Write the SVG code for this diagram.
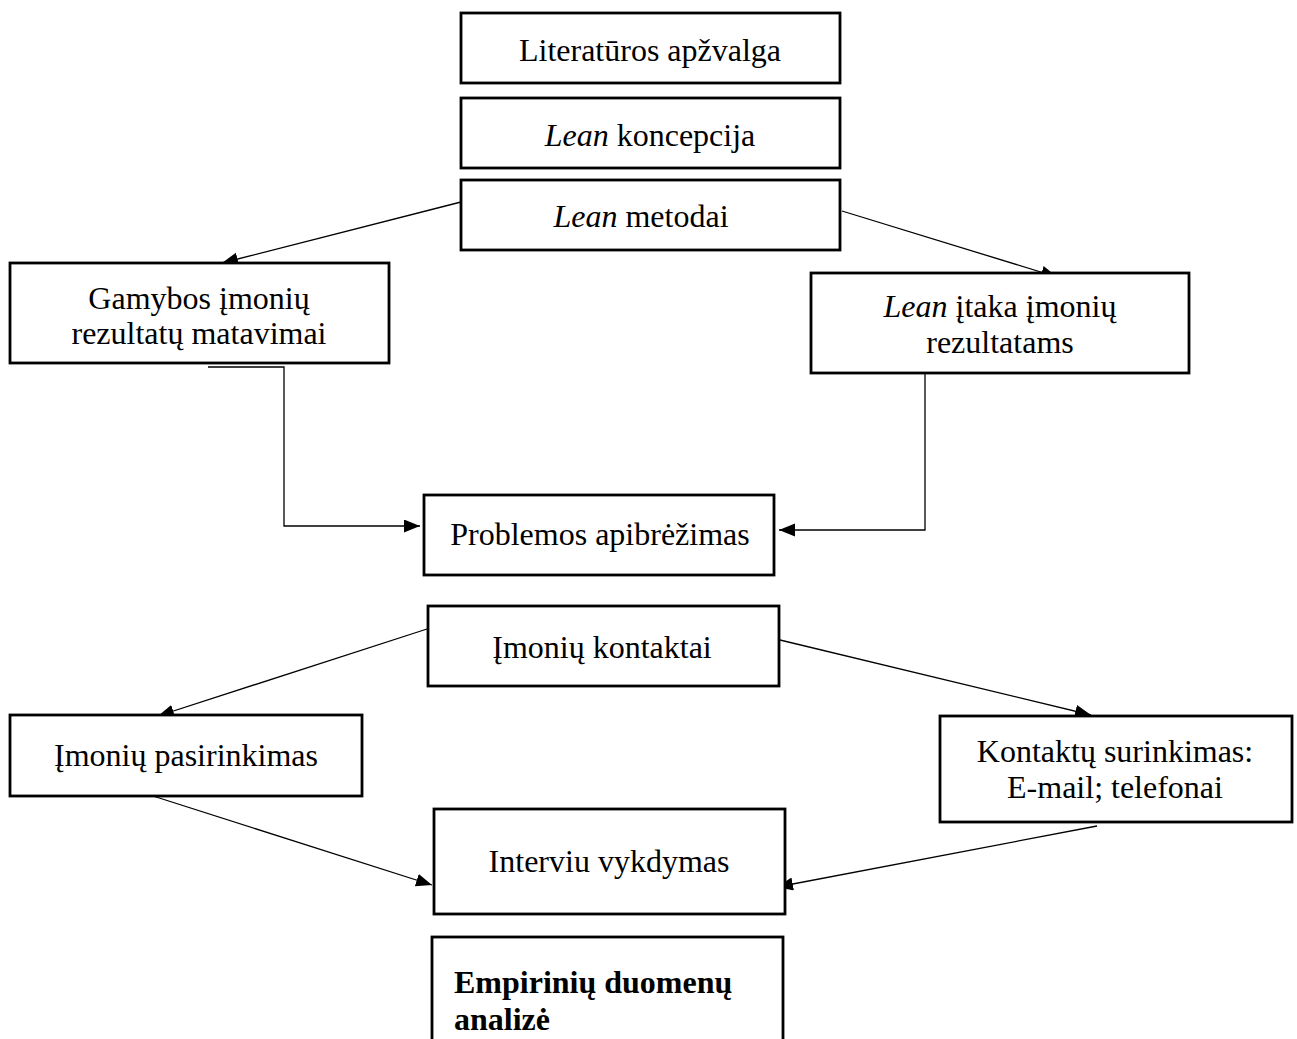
<svg xmlns="http://www.w3.org/2000/svg" width="1297" height="1039" viewBox="0 0 1297 1039">
<defs>
<style>
.box{fill:#fff;stroke:#000;stroke-width:2.8}
.t{font-family:"Liberation Serif","Times New Roman",serif;font-size:32px;fill:#000;text-anchor:middle}
.b{font-weight:bold;text-anchor:start}
.c{fill:none;stroke:#000;stroke-width:1.3}
</style>
<marker id="ah" markerUnits="userSpaceOnUse" markerWidth="17" markerHeight="14" refX="16" refY="6.5" orient="auto">
<path d="M0,0 L16,6.5 L0,13 z" fill="#000"/>
</marker>
</defs>
<rect width="1297" height="1039" fill="#fff"/>
<g id="connectors">
<path class="c" d="M461,202 L222,263" marker-end="url(#ah)"/>
<path class="c" d="M842,211 L1057,277" marker-end="url(#ah)"/>
<path class="c" d="M208,367 H284 V526 H420" marker-end="url(#ah)"/>
<path class="c" d="M925,373 V530 H779" marker-end="url(#ah)"/>
<path class="c" d="M427,629 L158,716" marker-end="url(#ah)"/>
<path class="c" d="M780,640 L1091,715" marker-end="url(#ah)"/>
<path class="c" d="M153,796 L432,885" marker-end="url(#ah)"/>
<path class="c" d="M1097,826 L777,887" marker-end="url(#ah)"/>
</g>
<g id="n-literatura">
<rect class="box" x="461" y="13" width="379" height="70"/>
<text class="t" x="650" y="61">Literatūros apžvalga</text>
</g>
<g id="n-koncepcija">
<rect class="box" x="461" y="98" width="379" height="70"/>
<text class="t" x="650" y="146"><tspan font-style="italic">Lean</tspan> koncepcija</text>
</g>
<g id="n-metodai">
<rect class="box" x="461" y="180" width="379" height="70"/>
<text class="t" x="641" y="227"><tspan font-style="italic">Lean</tspan> metodai</text>
</g>
<g id="n-gamybos">
<rect class="box" x="10" y="263" width="379" height="100"/>
<text class="t" x="199" y="309">Gamybos įmonių</text>
<text class="t" x="199" y="344">rezultatų matavimai</text>
</g>
<g id="n-itaka">
<rect class="box" x="811" y="273" width="378" height="100"/>
<text class="t" x="1000" y="317"><tspan font-style="italic">Lean</tspan> įtaka įmonių</text>
<text class="t" x="1000" y="353">rezultatams</text>
</g>
<g id="n-problemos">
<rect class="box" x="424" y="495" width="350" height="80"/>
<text class="t" x="600" y="545">Problemos apibrėžimas</text>
</g>
<g id="n-kontaktai">
<rect class="box" x="428" y="606" width="351" height="80"/>
<text class="t" x="602" y="658">Įmonių kontaktai</text>
</g>
<g id="n-pasirinkimas">
<rect class="box" x="10" y="715" width="352" height="81"/>
<text class="t" x="186" y="766">Įmonių pasirinkimas</text>
</g>
<g id="n-surinkimas">
<rect class="box" x="940" y="716" width="352" height="106"/>
<text class="t" x="1115" y="762">Kontaktų surinkimas:</text>
<text class="t" x="1115" y="798">E-mail; telefonai</text>
</g>
<g id="n-interviu">
<rect class="box" x="434" y="809" width="351" height="105"/>
<text class="t" x="609" y="872">Interviu vykdymas</text>
</g>
<g id="n-empiriniu">
<rect class="box" x="432" y="937" width="351" height="120"/>
<text class="t b" x="454" y="993">Empirinių duomenų</text>
<text class="t b" x="454" y="1030">analizė</text>
</g>
</svg>
